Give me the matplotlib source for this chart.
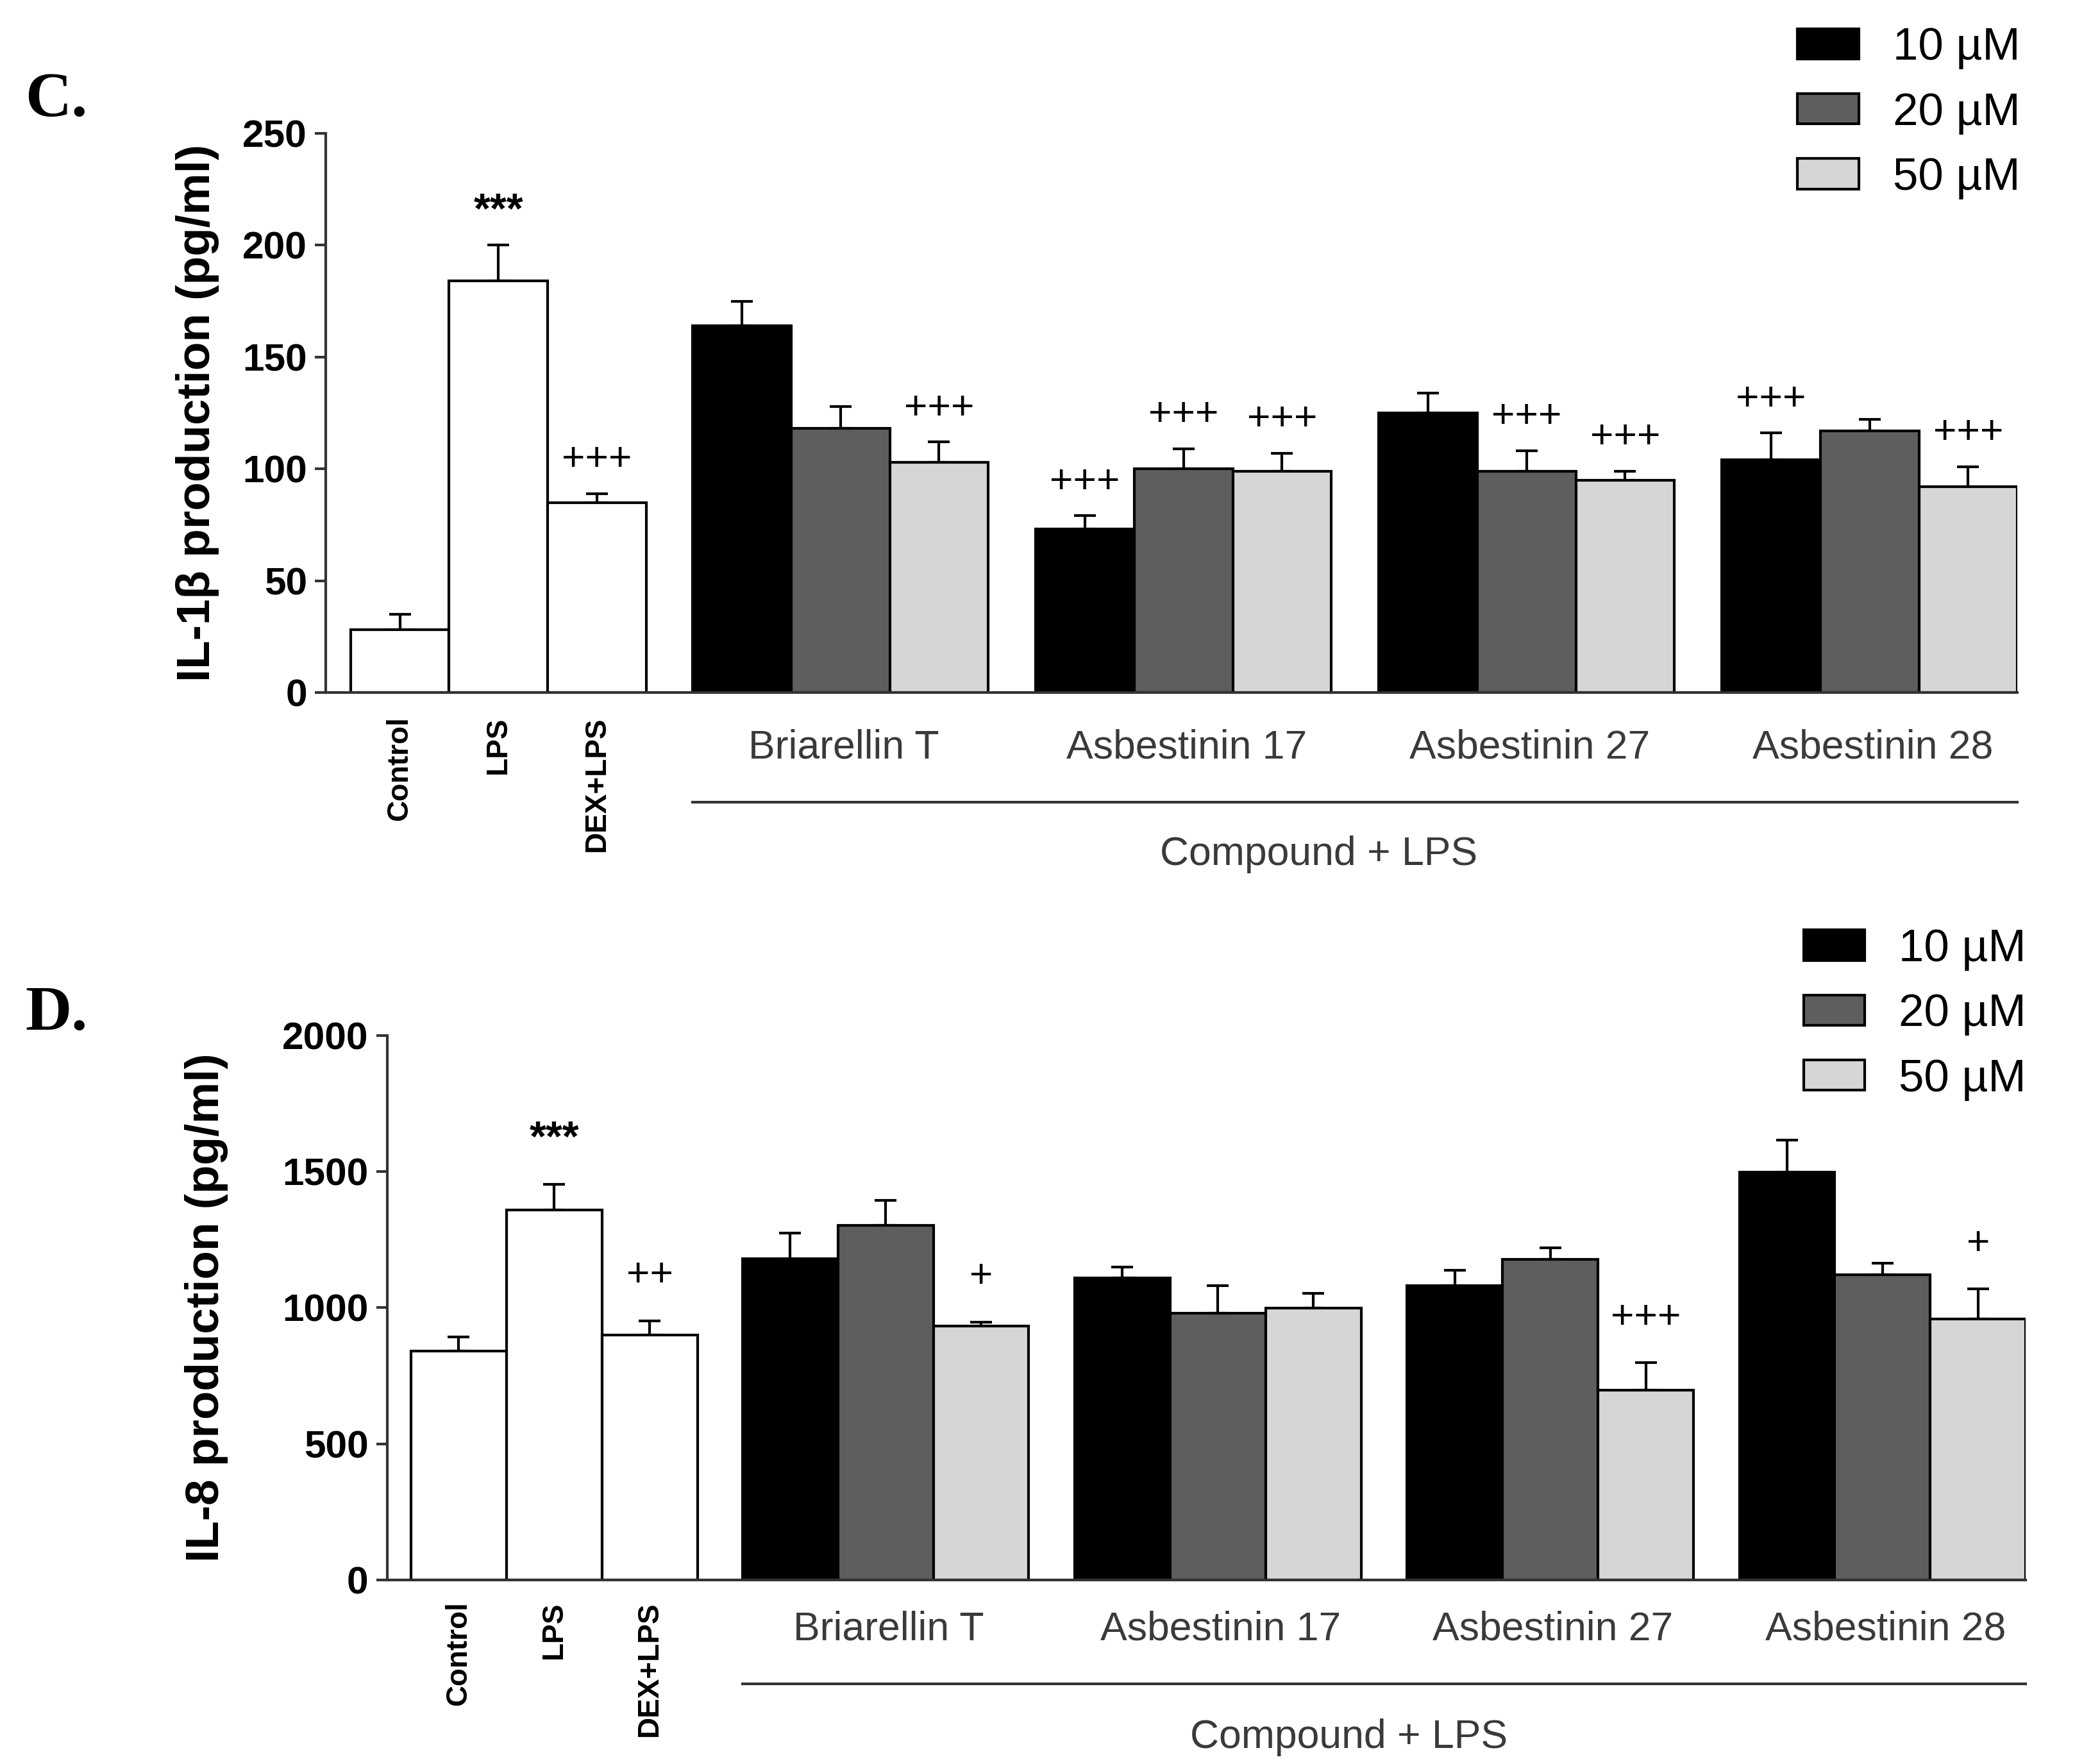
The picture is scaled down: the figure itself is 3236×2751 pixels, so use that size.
import matplotlib
matplotlib.use('Agg')
import matplotlib.pyplot as plt
import matplotlib.transforms as mtransforms
from matplotlib.patches import Patch
import numpy as np

# data
ctrl_labels = ['Control', 'LPS', 'DEX+LPS']
compounds = ['Briarellin T', 'Asbestinin 17', 'Asbestinin 27', 'Asbestinin 28']
doses = ['10 \u00b5M', '20 \u00b5M', '50 \u00b5M']

# panel C: IL-1beta
il1b_ctrl = [28, 184, 85]
il1b_ctrl_err = [7, 16, 4]
il1b_10 = [164, 73, 125, 104]
il1b_20 = [118, 100, 99, 117]
il1b_50 = [103, 99, 95, 92]
il1b_10_err = [11, 6, 9, 12]
il1b_20_err = [10, 9, 9, 5]
il1b_50_err = [9, 8, 4, 9]
il1b_ctrl_sig = ['', '***', '+++']
il1b_sig = [['', '', '+++'], ['+++', '+++', '+++'], ['', '+++', '+++'], ['+++', '', '+++']]

# panel D: IL-8
il8_ctrl = [840, 1360, 900]
il8_ctrl_err = [52, 92, 52]
il8_10 = [1180, 1110, 1080, 1498]
il8_20 = [1303, 980, 1177, 1120]
il8_50 = [932, 999, 698, 958]
il8_10_err = [95, 40, 57, 117]
il8_20_err = [92, 100, 42, 43]
il8_50_err = [15, 53, 100, 110]
il8_ctrl_sig = ['', '***', '++']
il8_sig = [['', '', '+'], ['', '', ''], ['', '', '+++'], ['', '', '+']]

colors = ['#000000', '#5e5e5e', '#d6d6d6']
sans = ['Liberation Sans', 'DejaVu Sans']

fig = plt.figure(figsize=(3237 / 300, 2751 / 300), dpi=300)

# bar positions (in bar widths)
ctrl_x = np.arange(3)
grp_start = 3.47 + 3.48 * np.arange(4)


def panel(rect, ctrl, ctrl_err, vals, errs, ctrl_sig, sig, ymax, step, ylabel,
          sig_off, ylab_x, lbl_y, line_y, cmp_y, tickpad):
    ax = fig.add_axes(rect)
    ax.bar(ctrl_x, ctrl, width=1, color='white', edgecolor='black', linewidth=1.0, zorder=2)
    ax.errorbar(ctrl_x, ctrl, yerr=[np.zeros(3), ctrl_err], fmt='none', ecolor='black',
                elinewidth=1.0, capsize=4, capthick=1.0, zorder=1)
    for i, s in enumerate(ctrl_sig):
        if s:
            star = '*' in s
            ax.text(ctrl_x[i], ctrl[i] + ctrl_err[i] + sig_off, s, ha='center', va='center',
                    fontsize=16 if star else 15, family=sans,
                    fontweight='bold' if star else 'normal')
    for d in range(3):
        x = grp_start + d
        ax.bar(x, vals[d], width=1, color=colors[d], edgecolor='black', linewidth=1.0, zorder=2)
        ax.errorbar(x, vals[d], yerr=[np.zeros(4), errs[d]], fmt='none', ecolor='black',
                    elinewidth=1.0, capsize=4, capthick=1.0, zorder=1)
        for g in range(4):
            s = sig[g][d]
            if s:
                ax.text(x[g], vals[d][g] + errs[d][g] + sig_off, s, ha='center', va='center',
                        fontsize=15, family=sans)
    ax.set_xlim(-0.75, grp_start[-1] + 2.5)
    ax.set_ylim(0, ymax)
    ax.set_yticks(np.arange(0, ymax + 1, step))
    ax.set_xticks(ctrl_x)
    ax.set_xticklabels(ctrl_labels, rotation=90, fontsize=11, fontweight='bold',
                       family=sans, va='top')
    ax.tick_params(axis='x', length=0, pad=tickpad)
    ax.tick_params(axis='y', length=4, width=1.0, pad=3, color='#333333')
    for t in ax.get_yticklabels():
        t.set_fontsize(14.5)
        t.set_fontweight('bold')
        t.set_family(sans)
    for s in ['top', 'right']:
        ax.spines[s].set_visible(False)
    ax.spines['left'].set_linewidth(1.0)
    ax.spines['bottom'].set_linewidth(1.0)
    ax.spines['left'].set_color('#333333')
    ax.spines['bottom'].set_color('#333333')
    ax.set_ylabel(ylabel, fontsize=17.5, fontweight='bold', family=sans)
    ax.yaxis.set_label_coords(ylab_x, 0.5)

    trans = mtransforms.blended_transform_factory(ax.transData, ax.transAxes)
    for g, name in enumerate(compounds):
        ax.text(grp_start[g] + 1.03, lbl_y, name, transform=trans, ha='center', va='center',
                fontsize=15, color='#3a3a3a', family=sans)
    ax.plot([grp_start[0] - 0.5, grp_start[-1] + 2.5], [line_y, line_y], transform=trans,
            color='#333333', linewidth=1.0, clip_on=False)
    ax.text((grp_start[0] + grp_start[-1] + 2) / 2 - 0.37, cmp_y, 'Compound + LPS',
            transform=trans, ha='center', va='center', fontsize=15, color='#3a3a3a',
            family=sans)
    return ax


axC = panel([0.157, 0.6074, 0.815, 0.317], il1b_ctrl, il1b_ctrl_err,
            [il1b_10, il1b_20, il1b_50], [il1b_10_err, il1b_20_err, il1b_50_err],
            il1b_ctrl_sig, il1b_sig, 250, 50, 'IL-1\u03b2 production (pg/ml)',
            15, -0.063, -0.098, -0.196, -0.289, 9)
axD = panel([0.1865, 0.1044, 0.7895, 0.3086], il8_ctrl, il8_ctrl_err,
            [il8_10, il8_20, il8_50], [il8_10_err, il8_20_err, il8_50_err],
            il8_ctrl_sig, il8_sig, 2000, 500, 'IL-8 production (pg/ml)',
            165, -0.097, -0.0907, -0.191, -0.289, 8)

handles = [Patch(facecolor=c, edgecolor='black', linewidth=1.0) for c in colors]
for anchor in [(0.982, 0.995), (0.985, 0.484)]:
    fig.legend(handles, doses, loc='upper right', bbox_to_anchor=anchor, frameon=False,
               prop={'family': sans, 'size': 17}, handlelength=1.35, handleheight=0.65,
               handletextpad=0.75, labelspacing=0.5, borderaxespad=0)

fig.text(0.012, 0.943, 'C.', fontsize=24, fontweight='bold', family=['Liberation Serif'],
         va='center')
fig.text(0.012, 0.425, 'D.', fontsize=24, fontweight='bold', family=['Liberation Serif'],
         va='center')

fig.savefig('out.png', dpi=300)
